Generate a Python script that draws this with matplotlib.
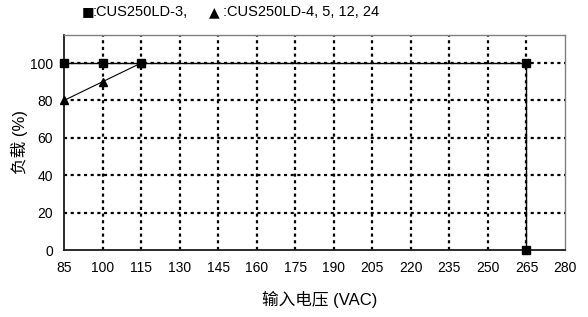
import matplotlib
matplotlib.use("Agg")
import matplotlib.pyplot as plt

plt.rcParams['font.family'] = ['Liberation Sans', 'Noto Sans CJK SC', 'DejaVu Sans']

# data
x_ticks = [85, 100, 115, 130, 145, 160, 175, 190, 205, 220, 235, 250, 265, 280]
y_ticks = [0, 20, 40, 60, 80, 100]

sq_x = [85, 100, 115, 265, 265]
sq_y = [100, 100, 100, 100, 0]

tri_x = [85, 100, 115]
tri_y = [80, 90, 100]

fig = plt.figure(figsize=(5.88, 3.17), dpi=100)
ax = fig.add_axes([64 / 588, 67 / 317, 501 / 588, 215 / 317])

# dotted grid
for xv in x_ticks[1:-1]:
    ax.axvline(xv, color='black', lw=1.6, ls=(0, (1.4, 1.6)), zorder=1)
for yv in y_ticks[1:]:
    ax.axhline(yv, color='black', lw=1.6, ls=(0, (1.4, 1.6)), zorder=1)

ax.plot(sq_x, sq_y, color='black', lw=1.0, marker='s', markersize=6,
        zorder=3, clip_on=False)
ax.plot(tri_x, tri_y, color='black', lw=0.8, marker='^', markersize=6,
        zorder=3, clip_on=False)

ax.set_xlim(85, 280)
ax.set_ylim(0, 115)
ax.set_xticks(x_ticks)
ax.set_yticks(y_ticks)
ax.tick_params(length=0, labelsize=10, pad=8)

for s in ['left', 'bottom']:
    ax.spines[s].set_linewidth(1.3)
    ax.spines[s].set_color('#1a1a1a')
for s in ['top', 'right']:
    ax.spines[s].set_linewidth(1.0)
    ax.spines[s].set_color('#808080')

ax.set_xlabel('输入电压 (VAC)', fontsize=12)
ax.set_ylabel('负载 (%)', fontsize=12)
ax.xaxis.set_label_coords(0.511, -0.19)
ax.yaxis.set_label_coords(-0.072, 0.5)

# legend as text
ly = 1 - 12 / 317
fig.text(82 / 588, ly, '■', fontsize=9.5, va='center', family='DejaVu Sans')
fig.text(93 / 588, ly, ':CUS250LD-3,', fontsize=10.5, va='center')
fig.text(209 / 588, ly, '▲', fontsize=10, va='center', family='DejaVu Sans')
fig.text(223 / 588, ly, ':CUS250LD-4, 5, 12, 24', fontsize=10.5, va='center')

fig.savefig('out.png', dpi=100)
